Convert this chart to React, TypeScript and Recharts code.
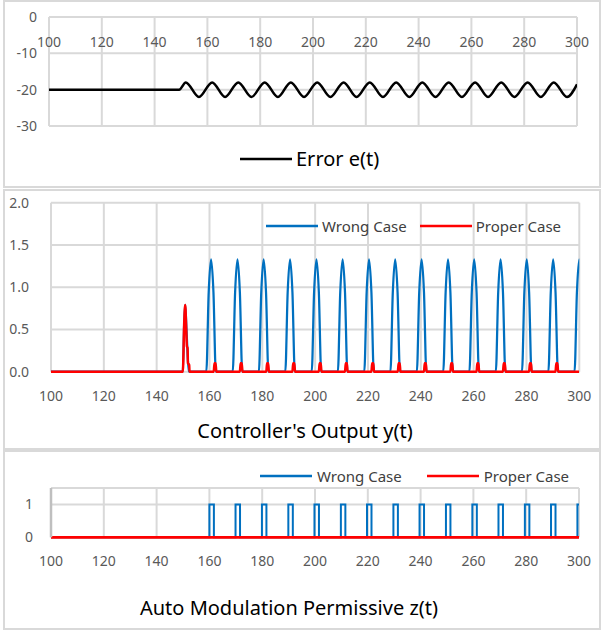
import { LineChart, Line, XAxis, YAxis, CartesianGrid, Legend } from "recharts";

const FONT = '"Noto Sans", "Open Sans", sans-serif';
const GRID = "#d9d9d9";
const TICK = { fontSize: 14, fill: "#595959", fontFamily: FONT };
const BLUE = "#0070C0";
const RED = "#FF0000";

const xTicks = [100, 120, 140, 160, 180, 200, 220, 240, 260, 280, 300];
const errorTicks = [-30, -20, -10, 0];
const outputTicks = [0, 0.5, 1, 1.5, 2];
const permissiveTicks = [0, 1];
const caseNames = ["Wrong Case", "Proper Case"];

// e(t): flat at -20, then alternating peaks / troughs from t~150
const errorTimes = [
  100, 149.3,
  151.8, 156.8, 161.8, 166.7, 171.7, 176.7, 181.7, 186.7, 191.6, 196.6,
  201.6, 206.6, 211.6, 216.5, 221.5, 226.5, 231.5, 236.5, 241.4, 246.4,
  251.4, 256.4, 261.4, 266.3, 271.3, 276.3, 281.3, 286.3, 291.2, 296.2,
  300,
];
const errorValues = [
  -20, -20,
  -18, -22, -18, -22, -18, -22, -18, -22, -18, -22,
  -18, -22, -18, -22, -18, -22, -18, -22, -18, -22,
  -18, -22, -18, -22, -18, -22, -18, -22, -18, -22,
  -18.5,
];

// y(t), wrong case: spike at t~150 then a pulse every ~10 s
const wrongSpikeTimes = [100, 149.9, 150.4, 150.8, 151.3, 151.8, 152.2];
const wrongSpikeValues = [0, 0, 0.55, 0.79, 0.5, 0.15, 0];
const wrongPeakTimes = [
  160.6, 170.6, 180.5, 190.5, 200.5, 210.4, 220.4, 230.3, 240.3, 250.3,
  260.2, 270.2, 280.1, 290.1, 300.0,
];
const pulseOffsets = [-1.8, -0.9, 0, 0.9, 1.8];
const pulseValues = [0, 0.94, 1.33, 0.94, 0];

// y(t), proper case: spike with shoulder at t~150, then small blips
const properSpikeTimes = [100, 149.9, 150.4, 150.8, 151.2, 151.45, 151.7, 151.85, 152.3, 152.45];
const properSpikeValues = [0, 0, 0.55, 0.79, 0.5, 0.3, 0.28, 0.1, 0.08, 0];
const properBlipTimes = [
  162.1, 172.0, 182.0, 191.9, 201.9, 211.8, 221.8, 231.8, 241.7, 251.7,
  261.6, 271.6, 281.5, 291.5,
];
const blipOffsets = [-0.5, -0.2, 0.2, 0.5];
const blipValues = [0, 0.1, 0.1, 0];

// z(t), wrong case: on/off pulses
const permissiveStarts = [
  160.0, 169.9, 179.9, 189.9, 199.8, 209.8, 219.7, 229.7, 239.6, 249.6,
  259.6, 269.5, 279.5, 289.4, 299.4,
];
const permissiveWidth = 1.7;

type Pt = { t: number; v: number };
const toPoints = (ts: number[], vs: number[]): Pt[] => ts.map((t, i) => ({ t, v: vs[i] }));
const repeatShape = (centers: number[], offs: number[], vals: number[]): Pt[] =>
  centers.flatMap((c) => offs.map((o, i) => ({ t: c + o, v: vals[i] })));

const errorData = toPoints(errorTimes, errorValues);
const wrongOutput = [
  ...toPoints(wrongSpikeTimes, wrongSpikeValues),
  ...repeatShape(wrongPeakTimes, pulseOffsets, pulseValues),
];
const properOutput = [
  ...toPoints(properSpikeTimes, properSpikeValues),
  ...repeatShape(properBlipTimes, blipOffsets, blipValues),
  { t: 300, v: 0 },
];
const wrongPermissive = [
  { t: 100, v: 0 },
  ...permissiveStarts.flatMap((s) => [
    { t: s, v: 0 },
    { t: s, v: 1 },
    { t: s + permissiveWidth, v: 1 },
    { t: s + permissiveWidth, v: 0 },
  ]),
];
const properPermissive = [
  { t: 100, v: 0 },
  { t: 300, v: 0 },
];

// eslint-disable-next-line @typescript-eslint/no-explicit-any
function LineLegend({ payload, fontSize, iconGap, itemGap, color }: any) {
  if (!payload) return null;
  // keep series order (Recharts sorts legend items by name)
  // eslint-disable-next-line @typescript-eslint/no-explicit-any
  const items = [...payload].sort((a: any, b: any) => caseNames.indexOf(a.value) - caseNames.indexOf(b.value));
  return (
    <div
      style={{
        display: "flex",
        alignItems: "center",
        fontFamily: FONT,
        fontSize,
        lineHeight: `${Math.round(fontSize * 1.2)}px`,
        color,
        whiteSpace: "nowrap",
      }}
    >
      {/* eslint-disable-next-line @typescript-eslint/no-explicit-any */}
      {items.map((entry: any, i: number) => (
        <div
          key={entry.value}
          style={{ display: "flex", alignItems: "center", marginLeft: i ? itemGap : 0 }}
        >
          <svg width={52} height={4} style={{ display: "block" }}>
            <line x1={0} y1={2} x2={52} y2={2} stroke={entry.color} strokeWidth={2.5} />
          </svg>
          <span style={{ marginLeft: iconGap }}>{entry.value}</span>
        </div>
      ))}
    </div>
  );
}

const boxStyle = (top: number, height: number): React.CSSProperties => ({
  position: "absolute",
  left: 3,
  top,
  width: 598,
  height,
  boxSizing: "border-box",
  border: `2px solid ${GRID}`,
  background: "#fff",
});

const titleStyle = (left: number, top: number): React.CSSProperties => ({
  position: "absolute",
  left,
  top,
  width: 300,
  textAlign: "center",
  fontFamily: FONT,
  fontSize: 20,
  lineHeight: "24px",
  color: "#000",
});

export default function App() {
  return (
    <div style={{ position: "absolute", left: 0, top: 0, width: 601, height: 630, background: "#fff" }}>
      <div style={boxStyle(0, 188)} />
      <div style={boxStyle(189, 261)} />
      <div style={boxStyle(450, 180)} />

      {/* Error e(t) */}
      <div style={{ position: "absolute", left: 0, top: 0 }}>
        <LineChart width={601} height={187} margin={{ top: 17, right: 24, bottom: 61, left: 9 }}>
          <CartesianGrid stroke={GRID} strokeWidth={2} />
          <XAxis
            dataKey="t"
            type="number"
            domain={[100, 300]}
            ticks={xTicks}
            interval={0}
            orientation="top"
            mirror
            allowDataOverflow
            tick={TICK}
            tickLine={false}
            axisLine={false}
            tickMargin={14}
          />
          <YAxis
            type="number"
            domain={[-30, 0]}
            ticks={errorTicks}
            interval={0}
            width={40}
            tick={TICK}
            tickLine={false}
            axisLine={false}
            tickMargin={6}
          />
          <Legend
            verticalAlign="middle"
            align="center"
            wrapperStyle={{ left: 240, top: 147, width: 300, height: 24 }}
            content={(props) => (
              <LineLegend {...props} fontSize={20} iconGap={4} itemGap={0} color="#000" />
            )}
          />
          <Line
            data={errorData}
            dataKey="v"
            name="Error e(t)"
            type="monotone"
            stroke="#000"
            strokeWidth={2.5}
            dot={false}
            isAnimationActive={false}
          />
        </LineChart>
      </div>

      {/* Controller's Output y(t) */}
      <div style={{ position: "absolute", left: 0, top: 190 }}>
        <LineChart width={601} height={258} margin={{ top: 12.7, right: 21.7, bottom: 46.3, left: 11 }}>
          <CartesianGrid stroke={GRID} strokeWidth={2} />
          <XAxis
            dataKey="t"
            type="number"
            domain={[100, 300]}
            ticks={xTicks}
            interval={0}
            allowDataOverflow
            tick={TICK}
            tickLine={false}
            axisLine={false}
            tickMargin={13.5}
          />
          <YAxis
            type="number"
            domain={[0, 2]}
            ticks={outputTicks}
            interval={0}
            width={40}
            tick={TICK}
            tickFormatter={(v: number) => v.toFixed(1)}
            tickLine={false}
            axisLine={false}
            tickMargin={16}
          />
          <Legend
            verticalAlign="middle"
            align="center"
            wrapperStyle={{ left: 266, top: 26.7, width: 330, height: 20 }}
            content={(props) => (
              <LineLegend {...props} fontSize={15} iconGap={4} itemGap={13} color="#404040" />
            )}
          />
          <Line
            data={wrongOutput}
            dataKey="v"
            name="Wrong Case"
            type="monotone"
            stroke={BLUE}
            strokeWidth={2.25}
            dot={false}
            isAnimationActive={false}
          />
          <Line
            data={properOutput}
            dataKey="v"
            name="Proper Case"
            type="monotone"
            stroke={RED}
            strokeWidth={2.5}
            dot={false}
            isAnimationActive={false}
          />
        </LineChart>
      </div>
      <div style={titleStyle(155, 418.8)}>Controller's Output y(t)</div>

      {/* Auto Modulation Permissive z(t) */}
      <div style={{ position: "absolute", left: 0, top: 451 }}>
        <LineChart width={601} height={177} margin={{ top: 37, right: 22, bottom: 60.7, left: 11 }}>
          <CartesianGrid stroke={GRID} strokeWidth={2} />
          <XAxis
            dataKey="t"
            type="number"
            domain={[100, 300]}
            ticks={xTicks}
            interval={0}
            allowDataOverflow
            tick={TICK}
            tickLine={false}
            axisLine={false}
            tickMargin={12.5}
          />
          <YAxis
            type="number"
            domain={[0, 1.5]}
            ticks={permissiveTicks}
            interval={0}
            width={40}
            tick={TICK}
            tickLine={false}
            axisLine={{ stroke: "#bfbfbf", strokeWidth: 2.5 }}
            tickMargin={12}
          />
          <Legend
            verticalAlign="middle"
            align="center"
            wrapperStyle={{ left: 260, top: 15.7, width: 340, height: 20 }}
            content={(props) => (
              <LineLegend {...props} fontSize={15} iconGap={5} itemGap={25} color="#404040" />
            )}
          />
          <Line
            data={wrongPermissive}
            dataKey="v"
            name="Wrong Case"
            type="linear"
            stroke={BLUE}
            strokeWidth={2}
            dot={false}
            isAnimationActive={false}
          />
          <Line
            data={properPermissive}
            dataKey="v"
            name="Proper Case"
            type="linear"
            stroke={RED}
            strokeWidth={2.75}
            dot={false}
            isAnimationActive={false}
          />
        </LineChart>
      </div>
      <div style={titleStyle(139, 595.8)}>Auto Modulation Permissive z(t)</div>
    </div>
  );
}
